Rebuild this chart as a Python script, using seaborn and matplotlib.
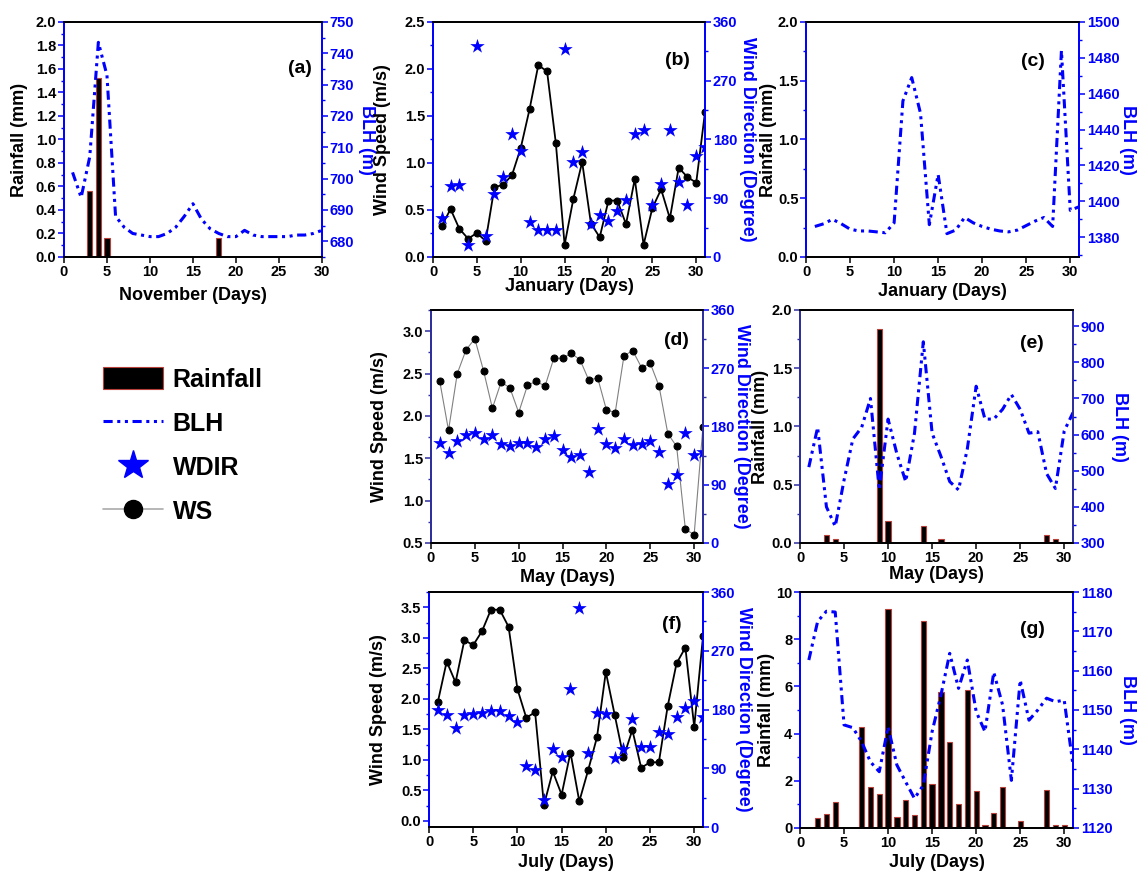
import numpy as np
import matplotlib
matplotlib.use("Agg")
import matplotlib.pyplot as plt
from matplotlib.ticker import MultipleLocator, FormatStrFormatter
from matplotlib.patches import Patch
from matplotlib.lines import Line2D
import seaborn as sns

sns.set_style("ticks")
plt.rcParams["font.family"] = ["Liberation Sans", "DejaVu Sans"]
plt.rcParams["font.weight"] = "bold"
plt.rcParams["axes.labelweight"] = "bold"
plt.rcParams["text.color"] = "black"
plt.rcParams["axes.labelcolor"] = "black"
plt.rcParams["xtick.color"] = "black"
plt.rcParams["ytick.color"] = "black"

# =========================
# DATA
# =========================

days30 = np.arange(1, 31)
days31 = np.arange(1, 32)

# (a) November
rain_nov_days = [3, 4, 5, 18]
rain_nov = [0.56, 1.52, 0.16, 0.16]
blh_nov = [702, 694, 707, 743.5, 733, 688, 684.5, 682.5, 682, 681.5,
           681.5, 682.5, 684.5, 688, 692, 687, 684, 682.5, 681.5, 681.5,
           683.5, 682, 681.5, 681.5, 681.5, 681.5, 682, 682, 682.5, 683.5]

# (b) January wind
ws_jan = [0.33, 0.51, 0.30, 0.195, 0.255, 0.17, 0.74, 0.77, 0.87, 1.16,
          1.57, 2.04, 1.975, 1.21, 0.13, 0.62, 1.01, 0.355, 0.21, 0.60,
          0.60, 0.35, 0.83, 0.13, 0.52, 0.72, 0.41, 0.95, 0.85, 0.79, 1.54]
wdir_jan = [60, 108, 110, 19, 323, 32, 97, 123, 189, 163,
            54, 42, 41, 41, 319, 146, 161, 50, 65, 55,
            70, 88, 189, 194, 79, 112, 195, 115, 79, 155, 168]

# (c) January BLH (no rainfall)
blh_jan = [1386, 1387.5, 1390, 1387.5, 1384.5, 1383.5, 1383.5, 1383, 1382.5, 1388,
           1456, 1469, 1449, 1387, 1415, 1382, 1384, 1391, 1388, 1386,
           1384.5, 1383.5, 1383, 1384, 1386.5, 1389, 1391, 1386, 1484, 1395, 1397]

# (d) May wind
ws_may = [2.41, 1.83, 2.50, 2.78, 2.91, 2.53, 2.09, 2.40, 2.33, 2.04,
          2.36, 2.41, 2.35, 2.68, 2.68, 2.74, 2.66, 2.42, 2.45, 2.07,
          2.04, 2.71, 2.77, 2.57, 2.62, 2.35, 1.79, 1.64, 0.66, 0.60, 1.87]
wdir_may = [154, 139, 158, 167, 170, 160, 167, 153, 150, 155,
            154, 148, 160, 166, 144, 133, 136, 110, 176, 153,
            147, 160, 151, 153, 158, 140, 91, 105, 170, 136, 140]

# (e) May rainfall and BLH
rain_may_days = [3, 4, 9, 10, 14, 16, 28, 29]
rain_may = [0.07, 0.03, 1.84, 0.19, 0.15, 0.03, 0.07, 0.03]
blh_may = [510, 620, 400, 346, 474, 588, 620, 700, 447, 643,
           547, 470, 604, 857, 604, 540, 470, 447, 561, 734,
           643, 643, 670, 711, 670, 604, 608, 492, 451, 610, 661]

# (f) July wind
ws_jul = [1.95, 2.61, 2.27, 2.96, 2.88, 3.11, 3.46, 3.46, 3.18, 2.16,
          1.69, 1.78, 0.26, 0.81, 0.43, 1.12, 0.32, 0.83, 1.37, 2.44,
          1.74, 1.04, 1.49, 0.87, 0.96, 0.96, 1.88, 2.58, 2.84, 1.54, 3.03]
wdir_jul = [180, 172, 152, 172, 173, 174, 178, 177, 170, 161,
            94, 87, 41, 119, 108, 211, 336, 114, 174, 173,
            105, 120, 165, 122, 123, 146, 142, 168, 183, 193, 168]

# (g) July rainfall and BLH
rain_jul_days = [2, 3, 4, 7, 8, 9, 10, 11, 12, 13, 14, 15, 16, 17, 18, 19,
                 20, 21, 22, 23, 24, 25, 28, 29, 30]
rain_jul = [0.42, 0.61, 1.10, 4.26, 1.74, 1.42, 9.28, 0.45, 1.20, 0.54,
            8.78, 1.86, 5.78, 3.65, 1.01, 5.85, 1.57, 0.11, 0.65, 1.74,
            0.06, 0.30, 1.61, 0.14, 0.11]
blh_jul = [1162.7, 1172.5, 1175.1, 1174.9, 1146.2, 1145.5, 1141.9, 1136.8, 1134.3, 1145.7,
           1136.0, 1131.7, 1127.5, 1130.9, 1144.5, 1153.8, 1164.4, 1155.5, 1162.7, 1149.6,
           1144.5, 1159.6, 1151.3, 1132.1, 1157.6, 1147.4, 1150.0, 1153.0, 1152.1, 1152.5, 1136.0]

BLUE = "blue"
BAR_EDGE = "#b8403a"
DASHDOT = (0, (3, 1.5, 1, 1.5, 1, 1.5))

fig = plt.figure(figsize=(11.38, 8.72), dpi=100)


def style_axes(ax, ax2, spine_color, left_major, left_fmt, right_major, right_minor):
    for a in (ax, ax2):
        for s in ("left", "right"):
            a.spines[s].set_color(spine_color)
            a.spines[s].set_linewidth(1.3)
        for s in ("top", "bottom"):
            a.spines[s].set_color("black")
            a.spines[s].set_linewidth(1.3)
    ax.xaxis.set_major_locator(MultipleLocator(5))
    ax.yaxis.set_major_locator(MultipleLocator(left_major))
    ax.yaxis.set_minor_locator(MultipleLocator(left_major / 2))
    ax.yaxis.set_major_formatter(FormatStrFormatter(left_fmt))
    ax2.yaxis.set_major_locator(MultipleLocator(right_major))
    ax2.yaxis.set_minor_locator(MultipleLocator(right_minor))
    ax.tick_params(axis="both", which="major", direction="out", length=4, width=1.1,
                   pad=1.5, labelsize=10.5, colors="black")
    ax.tick_params(axis="y", which="minor", direction="out", length=2.5, width=1)
    ax.tick_params(axis="y", which="both", color=spine_color)
    ax2.tick_params(axis="y", which="major", direction="out", length=4, width=1.1,
                    pad=1.5, labelsize=10.5, colors=BLUE)
    ax2.tick_params(axis="y", which="minor", direction="out", length=2.5, width=1,
                    colors=spine_color)
    for lab in ax.get_xticklabels() + ax.get_yticklabels() + ax2.get_yticklabels():
        lab.set_fontweight("bold")


def set_labels(ax, ax2, xlabel, ylabel, y2label, xl_y, yl_x, y2l_x):
    ax.set_xlabel(xlabel, fontsize=13, fontweight="bold", color="black")
    ax.xaxis.label.set_va("center")
    ax.xaxis.set_label_coords(0.5, xl_y)
    ax.set_ylabel(ylabel, fontsize=13, fontweight="bold", color="black")
    ax.yaxis.label.set_va("center")
    ax.yaxis.set_label_coords(yl_x, 0.5)
    ax2.set_ylabel(y2label, fontsize=13, fontweight="bold", color=BLUE, rotation=270)
    ax2.yaxis.label.set_va("center")
    ax2.yaxis.set_label_coords(y2l_x, 0.5)


def panel_tag(ax, tag, x, y):
    ax.text(x, y, tag, transform=ax.transAxes, ha="center", va="center",
            fontsize=14, fontweight="bold", color="black")


def rain_blh_panel(rect, rain_days, rain, blh_days, blh):
    ax = fig.add_axes(rect)
    if len(rain) > 0:
        sns.barplot(x=rain_days, y=rain, native_scale=True, color="black",
                    edgecolor=BAR_EDGE, linewidth=0.8, width=0.6, saturation=1,
                    errorbar=None, ax=ax)
    ax2 = ax.twinx()
    sns.lineplot(x=blh_days, y=blh, color=BLUE, linewidth=2.2,
                 linestyle=DASHDOT, ax=ax2)
    return ax, ax2


def wind_panel(rect, ws, wdir, line_color, line_width):
    ax = fig.add_axes(rect)
    sns.lineplot(x=days31, y=ws, color=line_color, linewidth=line_width,
                 marker="o", markersize=5, markerfacecolor="black",
                 markeredgecolor="black", ax=ax)
    ax2 = ax.twinx()
    sns.scatterplot(x=days31, y=wdir, marker="*", s=120, color=BLUE,
                    edgecolor=BLUE, linewidth=0, ax=ax2)
    return ax, ax2


# =========================
# (a) NOVEMBER RAINFALL / BLH
# =========================

ax, ax2 = rain_blh_panel([0.0562, 0.7053, 0.2267, 0.2695],
                         rain_nov_days, rain_nov, days30, blh_nov)
ax.set_xlim(0, 30)
ax.set_ylim(0, 2.0)
ax2.set_ylim(675, 750)
style_axes(ax, ax2, BLUE, 0.2, "%.1f", 10, 5)
set_labels(ax, ax2, "November (Days)", "Rainfall (mm)", "BLH (m)", -0.162, -0.171, 1.174)
panel_tag(ax, "(a)", 0.915, 0.804)

# =========================
# (b) JANUARY WIND
# =========================

ax, ax2 = wind_panel([0.3805, 0.7053, 0.2390, 0.2695], ws_jan, wdir_jan, "black", 1.3)
ax.set_xlim(0, 31)
ax.set_ylim(0, 2.5)
ax2.set_ylim(0, 360)
style_axes(ax, ax2, BLUE, 0.5, "%.1f", 90, 45)
set_labels(ax, ax2, "January (Days)", "Wind Speed (m/s)", "Wind Direction (Degree)",
           -0.125, -0.1875, 1.158)
panel_tag(ax, "(b)", 0.897, 0.838)

# =========================
# (c) JANUARY RAINFALL / BLH
# =========================

ax, ax2 = rain_blh_panel([0.7083, 0.7053, 0.2399, 0.2695], [], [], days31, blh_jan)
ax.set_xlim(0, 31)
ax.set_ylim(0, 2.0)
ax2.set_ylim(1369, 1500)
style_axes(ax, ax2, BLUE, 0.5, "%.1f", 20, 10)
set_labels(ax, ax2, "January (Days)", "Rainfall (mm)", "BLH (m)", -0.149, -0.139, 1.178)
panel_tag(ax, "(c)", 0.832, 0.83)

# =========================
# (d) MAY WIND
# =========================

ax, ax2 = wind_panel([0.3787, 0.3773, 0.2390, 0.2672], ws_may, wdir_may, "gray", 0.8)
ax.set_xlim(0, 31)
ax.set_ylim(0.5, 3.25)
ax2.set_ylim(0, 360)
style_axes(ax, ax2, "#2e2e9e", 0.5, "%.1f", 90, 45)
set_labels(ax, ax2, "May (Days)", "Wind Speed (m/s)", "Wind Direction (Degree)",
           -0.146, -0.1875, 1.143)
panel_tag(ax, "(d)", 0.904, 0.871)

# =========================
# (e) MAY RAINFALL / BLH
# =========================

ax, ax2 = rain_blh_panel([0.7030, 0.3773, 0.2399, 0.2672],
                         rain_may_days, rain_may, days31, blh_may)
ax.set_xlim(0, 31)
ax.set_ylim(0, 2.0)
ax2.set_ylim(300, 945)
style_axes(ax, ax2, "#2e2e9e", 0.5, "%.1f", 100, 50)
ax2.tick_params(axis="y", which="both", colors=BLUE)
set_labels(ax, ax2, "May (Days)", "Rainfall (mm)", "BLH (m)", -0.137, -0.143, 1.172)
panel_tag(ax, "(e)", 0.85, 0.858)

# =========================
# (f) JULY WIND
# =========================

ax, ax2 = wind_panel([0.3770, 0.0516, 0.2408, 0.2695], ws_jul, wdir_jul, "black", 1.3)
ax.set_xlim(0, 31)
ax.set_ylim(-0.1, 3.75)
ax2.set_ylim(0, 360)
style_axes(ax, ax2, BLUE, 0.5, "%.1f", 90, 45)
set_labels(ax, ax2, "July (Days)", "Wind Speed (m/s)", "Wind Direction (Degree)",
           -0.153, -0.186, 1.146)
panel_tag(ax, "(f)", 0.887, 0.86)

# =========================
# (g) JULY RAINFALL / BLH
# =========================

ax, ax2 = rain_blh_panel([0.7030, 0.0505, 0.2399, 0.2706],
                         rain_jul_days, rain_jul, days31, blh_jul)
ax.set_xlim(0, 31)
ax.set_ylim(0, 10)
ax2.set_ylim(1120, 1180)
style_axes(ax, ax2, BLUE, 2, "%d", 10, 5)
set_labels(ax, ax2, "July (Days)", "Rainfall (mm)", "BLH (m)", -0.148, -0.121, 1.2)
panel_tag(ax, "(g)", 0.853, 0.839)

# =========================
# LEGEND
# =========================

handles = [
    Patch(facecolor="black", edgecolor=BAR_EDGE, linewidth=0.8),
    Line2D([], [], color=BLUE, linewidth=2.2, linestyle=DASHDOT),
    Line2D([], [], color=BLUE, marker="*", markersize=22, linestyle="none"),
    Line2D([], [], color="#aaaaaa", linewidth=1.2, marker="o", markersize=13,
           markerfacecolor="black", markeredgecolor="black"),
]
fig.legend(handles, ["Rainfall", "BLH", "WDIR", "WS"], loc="center left",
           bbox_to_anchor=(0.0706, 0.489), frameon=False,
           prop={"size": 18, "weight": "bold"}, handlelength=2.4,
           handleheight=1.0, labelspacing=0.78, handletextpad=0.4)

plt.savefig("out.png", dpi=100)
plt.close()
